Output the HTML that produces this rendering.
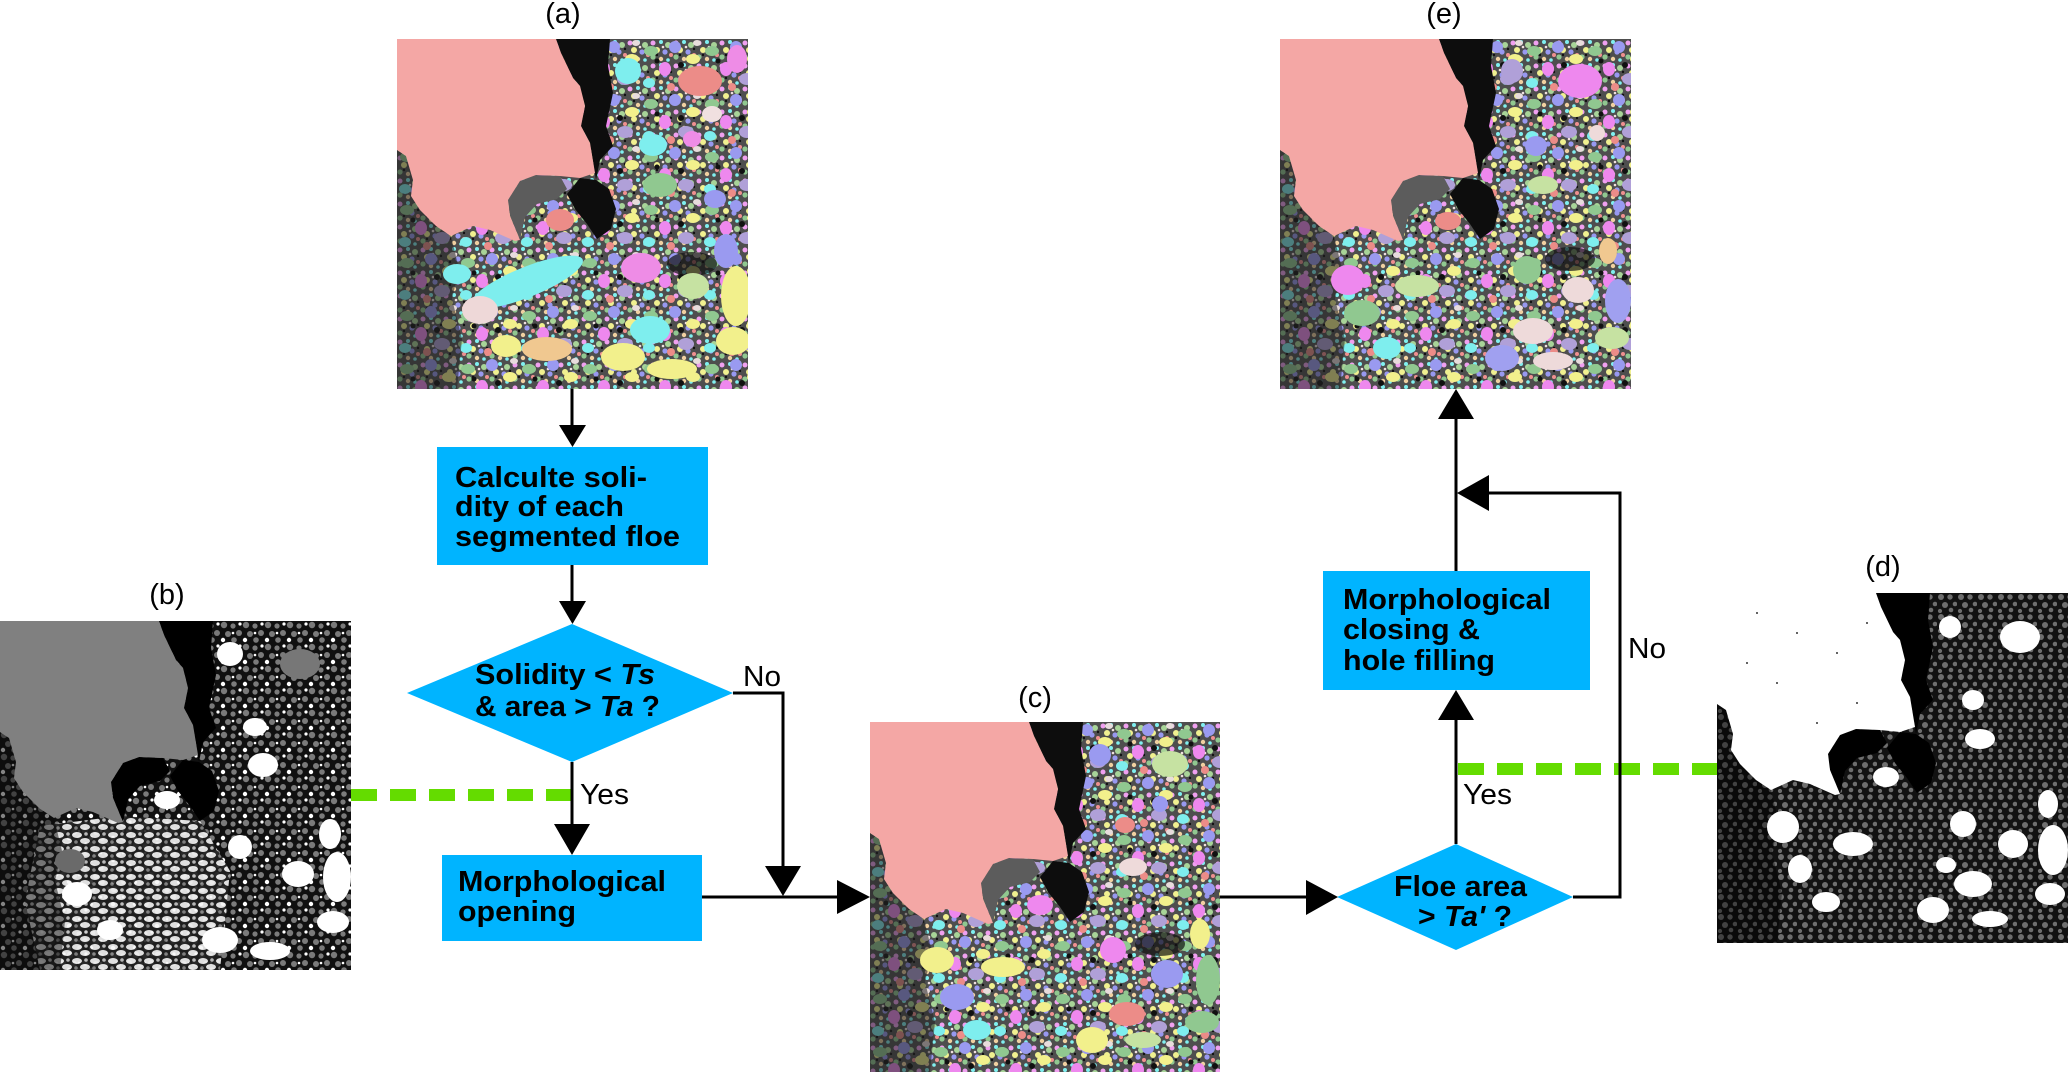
<!DOCTYPE html>
<html>
<head>
<meta charset="utf-8">
<style>
html,body{margin:0;padding:0;background:#fff;}
svg{display:block;}
</style>
</head>
<body>
<svg width="2068" height="1072" viewBox="0 0 2068 1072" xmlns="http://www.w3.org/2000/svg" font-family="'Liberation Sans', Arial, sans-serif">
<defs>
  <pattern id="pc" width="23" height="23" patternUnits="userSpaceOnUse">
    <rect width="23" height="23" fill="#4e4e4e"/>
    <circle cx="3" cy="4" r="2.5" fill="#f0a0f0"/>
    <circle cx="11" cy="3" r="2" fill="#80f0f0"/>
    <circle cx="18" cy="6" r="3" fill="#a8d498"/>
    <circle cx="7" cy="11" r="3" fill="#f0f090"/>
    <circle cx="15" cy="13" r="2.6" fill="#9898f0"/>
    <circle cx="21" cy="16" r="2" fill="#f09090"/>
    <circle cx="3" cy="18" r="2.6" fill="#90c890"/>
    <circle cx="11" cy="20" r="2.2" fill="#f0d0a0"/>
    <circle cx="18" cy="21" r="1.8" fill="#80f0f0"/>
    <circle cx="13" cy="8" r="1.3" fill="#f0e0e0"/>
    <circle cx="21" cy="10" r="1.2" fill="#111"/>
    <circle cx="7" cy="16" r="1.2" fill="#111"/>
  </pattern>
  <pattern id="pc2" width="61" height="53" patternUnits="userSpaceOnUse">
    <ellipse cx="10" cy="12" rx="7" ry="5" fill="#90c890"/>
    <ellipse cx="34" cy="8" rx="6" ry="6" fill="#9a9af0"/>
    <ellipse cx="52" cy="20" rx="7" ry="5" fill="#f2f08c"/>
    <ellipse cx="24" cy="30" rx="6" ry="7" fill="#ee88ee"/>
    <ellipse cx="45" cy="40" rx="8" ry="6" fill="#b0a0d8"/>
    <ellipse cx="8" cy="44" rx="6" ry="5" fill="#7eeeee"/>
    <ellipse cx="30" cy="48" rx="4" ry="4" fill="#ec8c88"/>
    <ellipse cx="56" cy="4" rx="4" ry="3" fill="#e8dcdc"/>
    <circle cx="40" cy="26" r="3" fill="#111"/>
    <circle cx="16" cy="22" r="2.5" fill="#111"/>
  </pattern>
  <pattern id="pb" width="22" height="22" patternUnits="userSpaceOnUse">
    <rect width="22" height="22" fill="#101010"/>
    <circle cx="4" cy="4" r="3.2" fill="#7a7a7a"/>
    <circle cx="13" cy="5" r="2.6" fill="#7a7a7a"/>
    <circle cx="19" cy="12" r="3" fill="#7a7a7a"/>
    <circle cx="8" cy="13" r="3" fill="#7a7a7a"/>
    <circle cx="3" cy="19" r="2.2" fill="#fff"/>
    <circle cx="14" cy="19" r="2.8" fill="#7a7a7a"/>
    <circle cx="20" cy="3" r="1.6" fill="#fff"/>
    <circle cx="13" cy="12" r="1.3" fill="#fff"/>
  </pattern>
  <pattern id="pw" width="18" height="14" patternUnits="userSpaceOnUse">
    <rect width="18" height="14" fill="#202020"/>
    <ellipse cx="5" cy="4" rx="5" ry="3" fill="#f6f6f6"/>
    <ellipse cx="13" cy="10" rx="5" ry="3" fill="#f6f6f6"/>
    <circle cx="14" cy="3" r="1.8" fill="#c8c8c8"/>
    <circle cx="4" cy="11" r="1.8" fill="#8a8a8a"/>
  </pattern>
  <pattern id="pd" width="20" height="20" patternUnits="userSpaceOnUse">
    <rect width="20" height="20" fill="#121212"/>
    <circle cx="4" cy="4" r="3" fill="#6e6e6e"/>
    <circle cx="13" cy="4" r="2.7" fill="#6e6e6e"/>
    <circle cx="18" cy="11" r="2.3" fill="#6e6e6e"/>
    <circle cx="8" cy="12" r="3" fill="#6e6e6e"/>
    <circle cx="3" cy="18" r="2.1" fill="#6e6e6e"/>
    <circle cx="14" cy="17" r="2.3" fill="#6e6e6e"/>
  </pattern>
  <path id="floe" d="M0,0 L159,0 L164,14 L176,39 L183,47 L188,67 L184,87 L193,104 L198,134 L183,139 L163,137 L139,136 L123,142 L111,161 L113,177 L123,201 L118,202 L93,191 L76,187 L54,197 L39,187 L23,171 L14,157 L16,141 L9,117 L0,111 Z"/>
  <path id="blk" d="M159,0 L213,0 L211,27 L216,54 L209,87 L216,107 L203,121 L199,141 L193,104 L184,87 L188,67 L183,47 L176,39 L164,14 Z"/>
  <path id="blk2" d="M183,139 L199,141 L212,150 L219,170 L214,190 L200,200 L190,185 L178,170 L170,155 Z"/>
  <path id="rock" d="M111,161 L123,142 L139,136 L163,137 L170,150 L160,160 L140,165 L128,178 L123,201 L113,177 Z"/>
  <path id="left" d="M0,111 L9,117 L16,141 L14,157 L23,171 L39,187 L54,197 L62,230 L55,260 L65,300 L60,350 L0,350 Z"/>
</defs>

<!-- (a) -->
<svg x="397" y="39" width="351" height="350" overflow="hidden">
  <rect width="351" height="350" fill="url(#pc)"/>
  <rect width="351" height="350" fill="url(#pc2)"/>
  <use href="#left" fill="#222" opacity=".55"/>
  <ellipse cx="295" cy="225" rx="25" ry="12" fill="#111" opacity=".7"/>
  <ellipse cx="303" cy="42" rx="22" ry="15" fill="#ec8c88"/>
  <ellipse cx="231" cy="32" rx="13" ry="13" fill="#7eeeee"/>
  <ellipse cx="256" cy="106" rx="14" ry="11" fill="#7eeeee"/>
  <ellipse cx="263" cy="146" rx="17" ry="12" fill="#90c890"/>
  <ellipse cx="244" cy="229" rx="20" ry="15" fill="#ee8ce6"/>
  <ellipse cx="339" cy="257" rx="15" ry="30" fill="#f2f08c"/>
  <ellipse cx="296" cy="247" rx="16" ry="13" fill="#c6e2a2"/>
  <ellipse cx="253" cy="291" rx="20" ry="14" fill="#7eeeee"/>
  <ellipse cx="336" cy="302" rx="17" ry="14" fill="#f2f08c"/>
  <ellipse cx="226" cy="318" rx="22" ry="14" fill="#f2f08c"/>
  <ellipse cx="130" cy="243" rx="60" ry="15" fill="#7eeeee" transform="rotate(-22 130 243)"/>
  <ellipse cx="83" cy="271" rx="18" ry="14" fill="#eed8d8"/>
  <ellipse cx="329" cy="212" rx="12" ry="17" fill="#9a9af0"/>
  <ellipse cx="109" cy="307" rx="15" ry="11" fill="#f2f08c"/>
  <ellipse cx="60" cy="235" rx="14" ry="10" fill="#7eeeee"/>
  <ellipse cx="275" cy="330" rx="25" ry="10" fill="#f2f08c"/>
  <ellipse cx="295" cy="100" rx="9" ry="8" fill="#ee8ce6"/>
  <ellipse cx="318" cy="160" rx="11" ry="9" fill="#9a9af0"/>
  <ellipse cx="163" cy="181" rx="14" ry="11" fill="#ec8c88"/>
  <ellipse cx="150" cy="310" rx="25" ry="12" fill="#f0c890"/>
  <ellipse cx="340" cy="20" rx="10" ry="14" fill="#ee8ce6"/>
  <ellipse cx="315" cy="75" rx="10" ry="8" fill="#f0e0e0"/>
  <use href="#blk" fill="#0d0d0d"/>
  <use href="#blk2" fill="#0d0d0d"/>
  <use href="#rock" fill="#5c5c5c"/>
  <use href="#floe" fill="#f4a7a5"/>
</svg>

<!-- (e) -->
<svg x="1280" y="39" width="351" height="350" overflow="hidden">
  <rect width="351" height="350" fill="url(#pc)"/>
  <rect width="351" height="350" fill="url(#pc2)"/>
  <use href="#left" fill="#222" opacity=".55"/>
  <ellipse cx="290" cy="220" rx="25" ry="12" fill="#111" opacity=".7"/>
  <ellipse cx="300" cy="42" rx="22" ry="17" fill="#ee88ee"/>
  <ellipse cx="232" cy="32" rx="11" ry="12" fill="#b0a0d8"/>
  <ellipse cx="256" cy="107" rx="11" ry="10" fill="#9a9af0"/>
  <ellipse cx="263" cy="146" rx="15" ry="9" fill="#c6e2a2"/>
  <ellipse cx="168" cy="182" rx="13" ry="9" fill="#ec8c88"/>
  <ellipse cx="247" cy="231" rx="14" ry="14" fill="#90c890"/>
  <ellipse cx="298" cy="251" rx="16" ry="13" fill="#eedada"/>
  <ellipse cx="338" cy="262" rx="13" ry="22" fill="#a0a0f0"/>
  <ellipse cx="328" cy="212" rx="9" ry="13" fill="#f0c890"/>
  <ellipse cx="68" cy="241" rx="17" ry="15" fill="#ee88ee"/>
  <ellipse cx="82" cy="274" rx="18" ry="13" fill="#90c890"/>
  <ellipse cx="137" cy="247" rx="22" ry="11" fill="#c6e2a2"/>
  <ellipse cx="253" cy="292" rx="20" ry="13" fill="#eedada"/>
  <ellipse cx="332" cy="299" rx="17" ry="11" fill="#c6e2a2"/>
  <ellipse cx="222" cy="319" rx="17" ry="13" fill="#a0a0f0"/>
  <ellipse cx="107" cy="309" rx="14" ry="11" fill="#7eeeee"/>
  <ellipse cx="273" cy="322" rx="20" ry="9" fill="#eedada"/>
  <ellipse cx="317" cy="94" rx="8" ry="8" fill="#eedada"/>
  <use href="#blk" fill="#0d0d0d"/>
  <use href="#blk2" fill="#0d0d0d"/>
  <use href="#rock" fill="#5c5c5c"/>
  <use href="#floe" fill="#f4a7a5"/>
</svg>

<!-- (c) -->
<svg x="870" y="722" width="350" height="350" overflow="hidden">
  <rect width="350" height="350" fill="url(#pc)"/>
  <rect width="350" height="350" fill="url(#pc2)"/>
  <use href="#left" fill="#222" opacity=".55"/>
  <ellipse cx="290" cy="222" rx="25" ry="12" fill="#111" opacity=".7"/>
  <ellipse cx="300" cy="42" rx="18" ry="13" fill="#c6e2a2"/>
  <ellipse cx="230" cy="33" rx="11" ry="11" fill="#9a9af0"/>
  <ellipse cx="263" cy="145" rx="14" ry="9" fill="#eedada"/>
  <ellipse cx="170" cy="183" rx="13" ry="10" fill="#ee88ee"/>
  <ellipse cx="243" cy="228" rx="13" ry="13" fill="#ee88ee"/>
  <ellipse cx="330" cy="212" rx="10" ry="15" fill="#f2f08c"/>
  <ellipse cx="297" cy="252" rx="16" ry="14" fill="#9a9af0"/>
  <ellipse cx="338" cy="258" rx="12" ry="25" fill="#90c890"/>
  <ellipse cx="67" cy="238" rx="17" ry="13" fill="#f2f08c"/>
  <ellipse cx="133" cy="245" rx="22" ry="10" fill="#f2f08c"/>
  <ellipse cx="87" cy="275" rx="17" ry="13" fill="#9a9af0"/>
  <ellipse cx="257" cy="292" rx="18" ry="12" fill="#ec8c88"/>
  <ellipse cx="332" cy="300" rx="17" ry="11" fill="#90c890"/>
  <ellipse cx="222" cy="318" rx="16" ry="13" fill="#f2f08c"/>
  <ellipse cx="107" cy="308" rx="14" ry="10" fill="#7eeeee"/>
  <ellipse cx="273" cy="318" rx="18" ry="8" fill="#c6e2a2"/>
  <ellipse cx="290" cy="82" rx="8" ry="8" fill="#9a9af0"/>
  <ellipse cx="255" cy="103" rx="10" ry="8" fill="#ec8c88"/>
  <use href="#blk" fill="#0d0d0d"/>
  <use href="#blk2" fill="#0d0d0d"/>
  <use href="#rock" fill="#5c5c5c"/>
  <use href="#floe" fill="#f4a7a5"/>
</svg>

<!-- (b) -->
<svg x="0" y="621" width="351" height="349" overflow="hidden">
  <rect width="351" height="349" fill="url(#pb)"/>
  <path d="M40,205 L120,195 L200,200 L230,250 L220,349 L40,349 L25,280 Z" fill="url(#pw)" opacity=".9"/>
  <use href="#left" fill="#0a0a0a" opacity=".5"/>
  <ellipse cx="230" cy="33" rx="13" ry="12" fill="#fff"/>
  <ellipse cx="300" cy="43" rx="20" ry="15" fill="#777"/>
  <ellipse cx="255" cy="106" rx="12" ry="9" fill="#fff"/>
  <ellipse cx="263" cy="144" rx="15" ry="12" fill="#fff"/>
  <ellipse cx="330" cy="213" rx="11" ry="15" fill="#fff"/>
  <ellipse cx="298" cy="253" rx="16" ry="13" fill="#fff"/>
  <ellipse cx="337" cy="256" rx="14" ry="25" fill="#fff"/>
  <ellipse cx="167" cy="179" rx="13" ry="9" fill="#fff"/>
  <ellipse cx="240" cy="226" rx="12" ry="12" fill="#fff"/>
  <ellipse cx="333" cy="301" rx="16" ry="11" fill="#fff"/>
  <ellipse cx="220" cy="319" rx="18" ry="13" fill="#fff"/>
  <ellipse cx="110" cy="309" rx="13" ry="10" fill="#fff"/>
  <ellipse cx="77" cy="273" rx="15" ry="12" fill="#fff"/>
  <ellipse cx="70" cy="240" rx="15" ry="12" fill="#6a6a6a"/>
  <ellipse cx="270" cy="330" rx="20" ry="9" fill="#fff"/>
  <use href="#blk" fill="#000"/>
  <use href="#blk2" fill="#000"/>
  <use href="#rock" fill="#000"/>
  <use href="#floe" fill="#808080"/>
</svg>

<!-- (d) -->
<svg x="1717" y="593" width="351" height="350" overflow="hidden">
  <rect width="351" height="350" fill="url(#pd)"/>
  <use href="#left" fill="#000" opacity=".4"/>
  <ellipse cx="233" cy="34" rx="11" ry="11" fill="#fff"/>
  <ellipse cx="303" cy="44" rx="20" ry="16" fill="#fff"/>
  <ellipse cx="256" cy="107" rx="11" ry="10" fill="#fff"/>
  <ellipse cx="263" cy="146" rx="15" ry="10" fill="#fff"/>
  <ellipse cx="169" cy="184" rx="13" ry="10" fill="#fff"/>
  <ellipse cx="246" cy="231" rx="13" ry="13" fill="#fff"/>
  <ellipse cx="296" cy="251" rx="15" ry="14" fill="#fff"/>
  <ellipse cx="336" cy="257" rx="15" ry="25" fill="#fff"/>
  <ellipse cx="331" cy="211" rx="10" ry="14" fill="#fff"/>
  <ellipse cx="136" cy="251" rx="20" ry="12" fill="#fff"/>
  <ellipse cx="66" cy="234" rx="16" ry="16" fill="#fff"/>
  <ellipse cx="83" cy="276" rx="12" ry="14" fill="#fff"/>
  <ellipse cx="229" cy="272" rx="10" ry="8" fill="#fff"/>
  <ellipse cx="256" cy="291" rx="19" ry="13" fill="#fff"/>
  <ellipse cx="109" cy="309" rx="14" ry="10" fill="#fff"/>
  <ellipse cx="216" cy="317" rx="16" ry="13" fill="#fff"/>
  <ellipse cx="273" cy="326" rx="18" ry="8" fill="#fff"/>
  <ellipse cx="333" cy="301" rx="15" ry="11" fill="#fff"/>
  <use href="#blk" fill="#000"/>
  <use href="#blk2" fill="#000"/>
  <use href="#rock" fill="#000"/>
  <use href="#floe" fill="#fff"/>
  <g fill="#333">
    <circle cx="40" cy="20" r="1"/><circle cx="80" cy="40" r="1"/><circle cx="120" cy="60" r="1"/>
    <circle cx="60" cy="90" r="1"/><circle cx="150" cy="30" r="1"/><circle cx="140" cy="110" r="1"/>
    <circle cx="100" cy="130" r="1"/><circle cx="30" cy="70" r="1"/>
  </g>
</svg>

<!-- labels -->
<g font-size="29" fill="#000" text-anchor="middle">
  <text x="563" y="23">(a)</text>
  <text x="167" y="604">(b)</text>
  <text x="1035" y="707">(c)</text>
  <text x="1883" y="576">(d)</text>
  <text x="1444" y="23">(e)</text>
</g>

<!-- green dashed lines -->
<line x1="351" y1="795" x2="571" y2="795" stroke="#64dc00" stroke-width="12" stroke-dasharray="26 13"/>
<line x1="1458" y1="769" x2="1717" y2="769" stroke="#64dc00" stroke-width="12" stroke-dasharray="26 13"/>

<!-- shapes -->
<rect x="437" y="447" width="271" height="118" fill="#00b4ff"/>
<polygon points="407,693 572,624 733,693 572,762" fill="#00b4ff"/>
<rect x="442" y="855" width="260" height="86" fill="#00b4ff"/>
<rect x="1323" y="571" width="267" height="119" fill="#00b4ff"/>
<polygon points="1337,897 1456,844 1573,897 1456,950" fill="#00b4ff"/>

<!-- connectors -->
<g stroke="#000" stroke-width="3" fill="none">
  <line x1="572" y1="389" x2="572" y2="430"/>
  <line x1="572" y1="565" x2="572" y2="605"/>
  <line x1="572" y1="762" x2="572" y2="830"/>
  <polyline points="733,693 783,693 783,870"/>
  <line x1="702" y1="897" x2="842" y2="897"/>
  <line x1="1220" y1="897" x2="1310" y2="897"/>
  <line x1="1456" y1="844" x2="1456" y2="715"/>
  <line x1="1456" y1="571" x2="1456" y2="412"/>
  <polyline points="1573,897 1620,897 1620,493 1484,493"/>
</g>
<g fill="#000">
  <polygon points="559,425 586,425 572.5,447"/>
  <polygon points="559,601 586,601 572.5,624"/>
  <polygon points="554,824 590,824 572,855"/>
  <polygon points="765,866 801,866 783,896"/>
  <polygon points="837,880 837,914 870,897"/>
  <polygon points="1306,880 1306,915 1338,897"/>
  <polygon points="1438,720 1474,720 1456,690"/>
  <polygon points="1438,419 1474,419 1456,389"/>
  <polygon points="1489,475 1489,511 1457,493"/>
</g>

<!-- box text -->
<g font-size="29" font-weight="bold" fill="#000">
  <text x="455" y="487" textLength="192" lengthAdjust="spacingAndGlyphs">Calculte soli-</text>
  <text x="455" y="516" textLength="169" lengthAdjust="spacingAndGlyphs">dity of each</text>
  <text x="455" y="546" textLength="225" lengthAdjust="spacingAndGlyphs">segmented floe</text>

  <text x="475" y="684" textLength="180" lengthAdjust="spacingAndGlyphs">Solidity &lt; <tspan font-style="italic">Ts</tspan></text>
  <text x="475" y="716" textLength="185" lengthAdjust="spacingAndGlyphs">&amp; area &gt; <tspan font-style="italic">Ta</tspan> ?</text>

  <text x="458" y="891" textLength="208" lengthAdjust="spacingAndGlyphs">Morphological</text>
  <text x="458" y="921" textLength="118" lengthAdjust="spacingAndGlyphs">opening</text>

  <text x="1343" y="609" textLength="208" lengthAdjust="spacingAndGlyphs">Morphological</text>
  <text x="1343" y="639" textLength="137" lengthAdjust="spacingAndGlyphs">closing &amp;</text>
  <text x="1343" y="670" textLength="152" lengthAdjust="spacingAndGlyphs">hole filling</text>

  <text x="1394" y="896" textLength="133" lengthAdjust="spacingAndGlyphs">Floe area</text>
  <text x="1418" y="926" textLength="94" lengthAdjust="spacingAndGlyphs">&gt; <tspan font-style="italic">Ta'</tspan> ?</text>
</g>

<!-- yes/no labels -->
<g font-size="29" fill="#000">
  <text x="743" y="686" textLength="38" lengthAdjust="spacingAndGlyphs">No</text>
  <text x="580" y="804" textLength="49" lengthAdjust="spacingAndGlyphs">Yes</text>
  <text x="1628" y="658" textLength="38" lengthAdjust="spacingAndGlyphs">No</text>
  <text x="1463" y="804" textLength="49" lengthAdjust="spacingAndGlyphs">Yes</text>
</g>
</svg>
</body>
</html>
